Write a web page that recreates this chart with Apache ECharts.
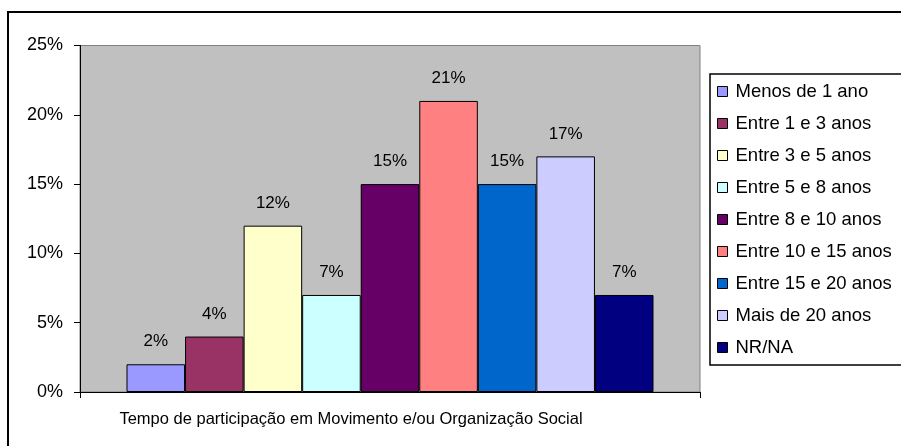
<!DOCTYPE html>
<html>
<head>
<meta charset="utf-8">
<script src="https://cdn.jsdelivr.net/npm/echarts@6/dist/echarts.min.js"></script>
<style>
html,body{margin:0;padding:0;background:#fff;}
#c{width:901px;height:446px;}
</style>
</head>
<body>
<div id="c"></div>
<script>
const categoryLabel = 'Tempo de participação em Movimento e/ou Organização Social';
const seriesNames = ['Menos de 1 ano','Entre 1 e 3 anos','Entre 3 e 5 anos','Entre 5 e 8 anos','Entre 8 e 10 anos','Entre 10 e 15 anos','Entre 15 e 20 anos','Mais de 20 anos','NR/NA'];
const seriesValues = [2, 4, 12, 7, 15, 21, 15, 17, 7];
const seriesColors = ['#9999FF','#993366','#FFFFCC','#CCFFFF','#660066','#FF8080','#0066CC','#CCCCFF','#000080'];
const yTicks = [0, 5, 10, 15, 20, 25];

const FONT = 'Liberation Sans, Arial, sans-serif';
const chart = echarts.init(document.getElementById('c'), null, {renderer:'canvas'});
const series = seriesNames.map((n, i) => ({
  name: n,
  type: 'bar',
  data: [seriesValues[i]],
  barGap: '0%',
  barCategoryGap: '15%',
  itemStyle: {color: seriesColors[i], borderColor: '#000', borderWidth: 1},
  label: {show: true, position: 'top', distance: 14, formatter: '{c}%', color: '#000', fontFamily: FONT, fontSize: 17},
  emphasis: {disabled: true},
  animation: false
}));

chart.setOption({
  animation: false,
  backgroundColor: '#fff',
  graphic: [{
    type: 'rect', shape: {x: 8, y: 12, width: 1000, height: 1000},
    style: {fill: 'none', stroke: '#000', lineWidth: 2}, silent: true, z: -10
  }],
  grid: {left: 80, right: 201, top: 45.5, bottom: 54, show: true,
    backgroundColor: '#C0C0C0', borderColor: '#808080', borderWidth: 1},
  legend: {
    orient: 'vertical', left: 710, top: 74,
    padding: [7, 60, 7, 7],
    itemGap: 11, itemWidth: 10, itemHeight: 10,
    backgroundColor: '#fff', borderColor: '#000', borderWidth: 1.5,
    icon: 'rect',
    itemStyle: {borderColor: '#000', borderWidth: 1},
    textStyle: {fontFamily: FONT, fontSize: 18.5, color: '#000', lineHeight: 21, padding: [0,0,0,3]},
    data: seriesNames
  },
  xAxis: {
    type: 'category', data: [categoryLabel],
    axisLine: {lineStyle: {color: '#000', width: 1}},
    axisTick: {show: true, alignWithLabel: false, length: 6, lineStyle: {color: '#000'}},
    axisLabel: {color: '#000', fontFamily: FONT, fontSize: 16.5, margin: 19, padding: [0, 78, 0, 0]},
    splitLine: {show: false}
  },
  yAxis: {
    type: 'value', min: yTicks[0], max: yTicks[yTicks.length-1], interval: 5,
    axisLine: {show: true, lineStyle: {color: '#000', width: 1}},
    axisTick: {show: true, length: 6, lineStyle: {color: '#000'}},
    axisLabel: {color: '#000', fontFamily: FONT, fontSize: 18, margin: 17, formatter: '{value}%'},
    splitLine: {show: false}
  },
  series: series
});
</script>
</body>
</html>
